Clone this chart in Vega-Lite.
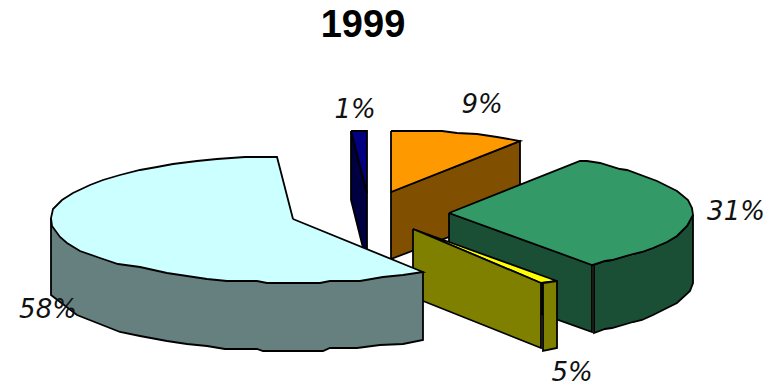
{
  "$schema": "https://vega.github.io/schema/vega-lite/v6.json",
  "width": 777,
  "height": 389,
  "autosize": {"type": "fit", "contains": "padding"},
  "padding": 0,
  "background": "white",
  "view": {"stroke": null},
  "datasets": {
    "faces": [
      {"part":"9% side","i":0,"x":391,"y":192},{"part":"9% side","i":1,"x":520,"y":141},{"part":"9% side","i":2,"x":520,"y":210},{"part":"9% side","i":3,"x":391,"y":259},{"part":"9% side","i":4,"x":391,"y":192},
      {"part":"9% top","i":0,"x":391,"y":131},{"part":"9% top","i":1,"x":442,"y":131},{"part":"9% top","i":2,"x":457,"y":133},{"part":"9% top","i":3,"x":477,"y":134},{"part":"9% top","i":4,"x":497,"y":137},{"part":"9% top","i":5,"x":520,"y":141},{"part":"9% top","i":6,"x":391,"y":192},{"part":"9% top","i":7,"x":391,"y":131},
      {"part":"1% side","i":0,"x":351,"y":131},{"part":"1% side","i":1,"x":367,"y":193},{"part":"1% side","i":2,"x":367,"y":250},{"part":"1% side","i":3,"x":363,"y":248},{"part":"1% side","i":4,"x":351,"y":200},{"part":"1% side","i":5,"x":351,"y":131},
      {"part":"1% top","i":0,"x":351,"y":131},{"part":"1% top","i":1,"x":367,"y":131},{"part":"1% top","i":2,"x":367,"y":193},{"part":"1% top","i":3,"x":351,"y":131},
      {"part":"31% cut","i":0,"x":449,"y":213},{"part":"31% cut","i":1,"x":592,"y":264},{"part":"31% cut","i":2,"x":592,"y":332},{"part":"31% cut","i":3,"x":449,"y":281},{"part":"31% cut","i":4,"x":449,"y":213},
      {"part":"31% rim","i":0,"x":594,"y":265},{"part":"31% rim","i":1,"x":605,"y":261},{"part":"31% rim","i":2,"x":612,"y":260},{"part":"31% rim","i":3,"x":633,"y":254},{"part":"31% rim","i":4,"x":642,"y":252},{"part":"31% rim","i":5,"x":653,"y":248},{"part":"31% rim","i":6,"x":667,"y":242},{"part":"31% rim","i":7,"x":677,"y":236},{"part":"31% rim","i":8,"x":687,"y":226},{"part":"31% rim","i":9,"x":693,"y":215},{"part":"31% rim","i":10,"x":693,"y":283},{"part":"31% rim","i":11,"x":690,"y":291},{"part":"31% rim","i":12,"x":677,"y":303},{"part":"31% rim","i":13,"x":667,"y":308},{"part":"31% rim","i":14,"x":653,"y":315},{"part":"31% rim","i":15,"x":642,"y":320},{"part":"31% rim","i":16,"x":633,"y":322},{"part":"31% rim","i":17,"x":612,"y":328},{"part":"31% rim","i":18,"x":605,"y":329},{"part":"31% rim","i":19,"x":594,"y":333},{"part":"31% rim","i":20,"x":594,"y":265},
      {"part":"31% top","i":0,"x":449,"y":213},{"part":"31% top","i":1,"x":580,"y":161},{"part":"31% top","i":2,"x":587,"y":161},{"part":"31% top","i":3,"x":600,"y":163},{"part":"31% top","i":4,"x":620,"y":169},{"part":"31% top","i":5,"x":627,"y":170},{"part":"31% top","i":6,"x":657,"y":181},{"part":"31% top","i":7,"x":663,"y":184},{"part":"31% top","i":8,"x":677,"y":191},{"part":"31% top","i":9,"x":688,"y":200},{"part":"31% top","i":10,"x":692,"y":208},{"part":"31% top","i":11,"x":693,"y":215},{"part":"31% top","i":12,"x":687,"y":226},{"part":"31% top","i":13,"x":677,"y":236},{"part":"31% top","i":14,"x":667,"y":242},{"part":"31% top","i":15,"x":653,"y":248},{"part":"31% top","i":16,"x":642,"y":252},{"part":"31% top","i":17,"x":633,"y":254},{"part":"31% top","i":18,"x":612,"y":260},{"part":"31% top","i":19,"x":605,"y":261},{"part":"31% top","i":20,"x":592,"y":265},{"part":"31% top","i":21,"x":449,"y":213},
      {"part":"5% top","i":0,"x":413,"y":229},{"part":"5% top","i":1,"x":557,"y":281},{"part":"5% top","i":2,"x":541,"y":283},{"part":"5% top","i":3,"x":413,"y":229},
      {"part":"5% rim","i":0,"x":543,"y":283},{"part":"5% rim","i":1,"x":557,"y":281},{"part":"5% rim","i":2,"x":557,"y":348},{"part":"5% rim","i":3,"x":543,"y":351},{"part":"5% rim","i":4,"x":543,"y":283},
      {"part":"5% cut","i":0,"x":413,"y":229},{"part":"5% cut","i":1,"x":541,"y":283},{"part":"5% cut","i":2,"x":541,"y":348},{"part":"5% cut","i":3,"x":413,"y":297},{"part":"5% cut","i":4,"x":413,"y":229},
      {"part":"58% rim","i":0,"x":51,"y":218},{"part":"58% rim","i":1,"x":51,"y":295},{"part":"58% rim","i":2,"x":77,"y":315},{"part":"58% rim","i":3,"x":120,"y":332},{"part":"58% rim","i":4,"x":140,"y":336},{"part":"58% rim","i":5,"x":167,"y":341},{"part":"58% rim","i":6,"x":187,"y":344},{"part":"58% rim","i":7,"x":207,"y":346},{"part":"58% rim","i":8,"x":225,"y":349},{"part":"58% rim","i":9,"x":257,"y":349},{"part":"58% rim","i":10,"x":263,"y":351},{"part":"58% rim","i":11,"x":323,"y":351},{"part":"58% rim","i":12,"x":330,"y":348},{"part":"58% rim","i":13,"x":357,"y":348},{"part":"58% rim","i":14,"x":380,"y":345},{"part":"58% rim","i":15,"x":403,"y":344},{"part":"58% rim","i":16,"x":423,"y":340},{"part":"58% rim","i":17,"x":423,"y":272},{"part":"58% rim","i":18,"x":51,"y":218},
      {"part":"58% top","i":0,"x":293,"y":219},{"part":"58% top","i":1,"x":277,"y":157},{"part":"58% top","i":2,"x":245,"y":157},{"part":"58% top","i":3,"x":217,"y":159},{"part":"58% top","i":4,"x":197,"y":161},{"part":"58% top","i":5,"x":173,"y":164},{"part":"58% top","i":6,"x":157,"y":167},{"part":"58% top","i":7,"x":140,"y":170},{"part":"58% top","i":8,"x":120,"y":175},{"part":"58% top","i":9,"x":103,"y":180},{"part":"58% top","i":10,"x":90,"y":185},{"part":"58% top","i":11,"x":73,"y":193},{"part":"58% top","i":12,"x":62,"y":200},{"part":"58% top","i":13,"x":53,"y":209},{"part":"58% top","i":14,"x":51,"y":218},{"part":"58% top","i":15,"x":52,"y":226},{"part":"58% top","i":16,"x":60,"y":237},{"part":"58% top","i":17,"x":67,"y":243},{"part":"58% top","i":18,"x":80,"y":251},{"part":"58% top","i":19,"x":100,"y":258},{"part":"58% top","i":20,"x":118,"y":264},{"part":"58% top","i":21,"x":140,"y":267},{"part":"58% top","i":22,"x":167,"y":273},{"part":"58% top","i":23,"x":187,"y":276},{"part":"58% top","i":24,"x":207,"y":279},{"part":"58% top","i":25,"x":227,"y":281},{"part":"58% top","i":26,"x":257,"y":281},{"part":"58% top","i":27,"x":267,"y":283},{"part":"58% top","i":28,"x":320,"y":283},{"part":"58% top","i":29,"x":330,"y":281},{"part":"58% top","i":30,"x":360,"y":281},{"part":"58% top","i":31,"x":383,"y":277},{"part":"58% top","i":32,"x":403,"y":275},{"part":"58% top","i":33,"x":423,"y":272},{"part":"58% top","i":34,"x":293,"y":219}
    ],
    "shares": [
      {"label":"1%","x":355,"y":110},
      {"label":"9%","x":482,"y":105},
      {"label":"31%","x":736,"y":212},
      {"label":"58%","x":48,"y":310},
      {"label":"5%","x":572,"y":373}
    ],
    "heading": [{"label":"1999","x":363,"y":26}]
  },
  "encoding": {
    "x": {"field":"x","type":"quantitative","axis":null,"scale":{"domain":[0,777],"nice":false,"zero":false}},
    "y": {"field":"y","type":"quantitative","axis":null,"scale":{"domain":[389,0],"nice":false,"zero":false}}
  },
  "layer": [
    {
      "data": {"name":"faces"},
      "mark": {"type":"line","stroke":"black","strokeWidth":1.8,"strokeJoin":"miter","interpolate":"linear","filled":false},
      "encoding": {
        "detail": {"field":"part"},
        "order": {"field":"i","type":"quantitative"},
        "fill": {
          "field":"part","type":"nominal","legend":null,
          "scale": {
            "domain":["9% side","9% top","1% side","1% top","31% cut","31% rim","31% top","5% top","5% rim","5% cut","58% rim","58% top"],
            "range":["#804f00","#ff9900","#000040","#000080","#1a4f35","#1a4f35","#339966","#ffff00","#808000","#808000","#668080","#ccffff"]
          }
        }
      }
    },
    {
      "data": {"name":"shares"},
      "mark": {"type":"text","font":"DejaVu Sans ExtraLight, DejaVu Sans","fontStyle":"italic","fontSize":26,"color":"#111111","align":"center","baseline":"middle"},
      "encoding": {"text":{"field":"label"}}
    },
    {
      "data": {"name":"heading"},
      "mark": {"type":"text","font":"Liberation Sans","fontWeight":"bold","fontSize":38,"color":"black","align":"center","baseline":"middle"},
      "encoding": {"text":{"field":"label"}}
    }
  ]
}
